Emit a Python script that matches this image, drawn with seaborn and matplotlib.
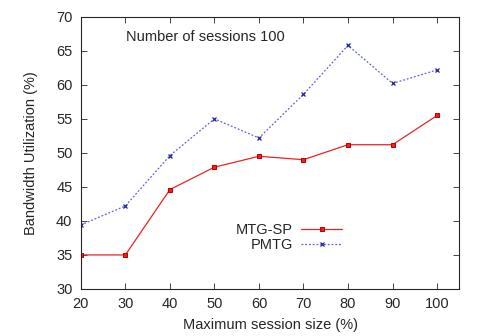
import pandas as pd
import seaborn as sns
import matplotlib.pyplot as plt

# data
session_size = [20, 30, 40, 50, 60, 70, 80, 90, 100]
mtg_sp = [35.0, 35.0, 44.6, 47.9, 49.5, 49.0, 51.2, 51.2, 55.5]
pmtg = [39.4, 42.2, 49.6, 55.0, 52.2, 58.6, 65.8, 60.2, 62.2]

sns.set_style("ticks")
plt.rcParams['font.family'] = ['Liberation Sans', 'DejaVu Sans']

df = pd.DataFrame({"size": session_size, "MTG-SP": mtg_sp, "PMTG": pmtg})

fig, ax = plt.subplots(figsize=(4.81, 3.36), dpi=100)
fig.subplots_adjust(left=0.168, right=0.955, top=0.95, bottom=0.14)

sns.lineplot(data=df, x="size", y="MTG-SP", ax=ax, color="#ee2222", lw=0.9,
             marker="s", markersize=3.5, markeredgecolor="#c00000", label="MTG-SP")
sns.lineplot(data=df, x="size", y="PMTG", ax=ax, color="#6060e8", lw=0.9,
             linestyle=(0, (1.5, 1.5)), marker="x", markersize=3.5,
             markeredgecolor="#2020a0", markeredgewidth=0.9, label="PMTG")

ax.set_xlim(20, 105)
ax.set_ylim(30, 70)
ax.set_xticks(session_size)
ax.set_yticks(range(30, 71, 5))
ax.tick_params(direction="in", top=True, right=True, length=4, labelsize=10.5,
               width=0.6, pad=6)
for s in ax.spines.values():
    s.set_linewidth(0.8)

ax.set_xlabel("Maximum session size (%)", fontsize=10.5, labelpad=5)
ax.set_ylabel("Bandwidth Utilization (%)", fontsize=10.5, labelpad=13)

ax.text(30.1, 67.1, "Number of sessions 100", fontsize=10.5, va="center", ha="left")

ax.legend(loc="center", bbox_to_anchor=(0.55, 0.19), frameon=False, markerfirst=False,
          fontsize=10.5, handlelength=2.8, handletextpad=0.6, labelspacing=0.05,
          borderpad=0)

plt.savefig("out.png", dpi=100)
